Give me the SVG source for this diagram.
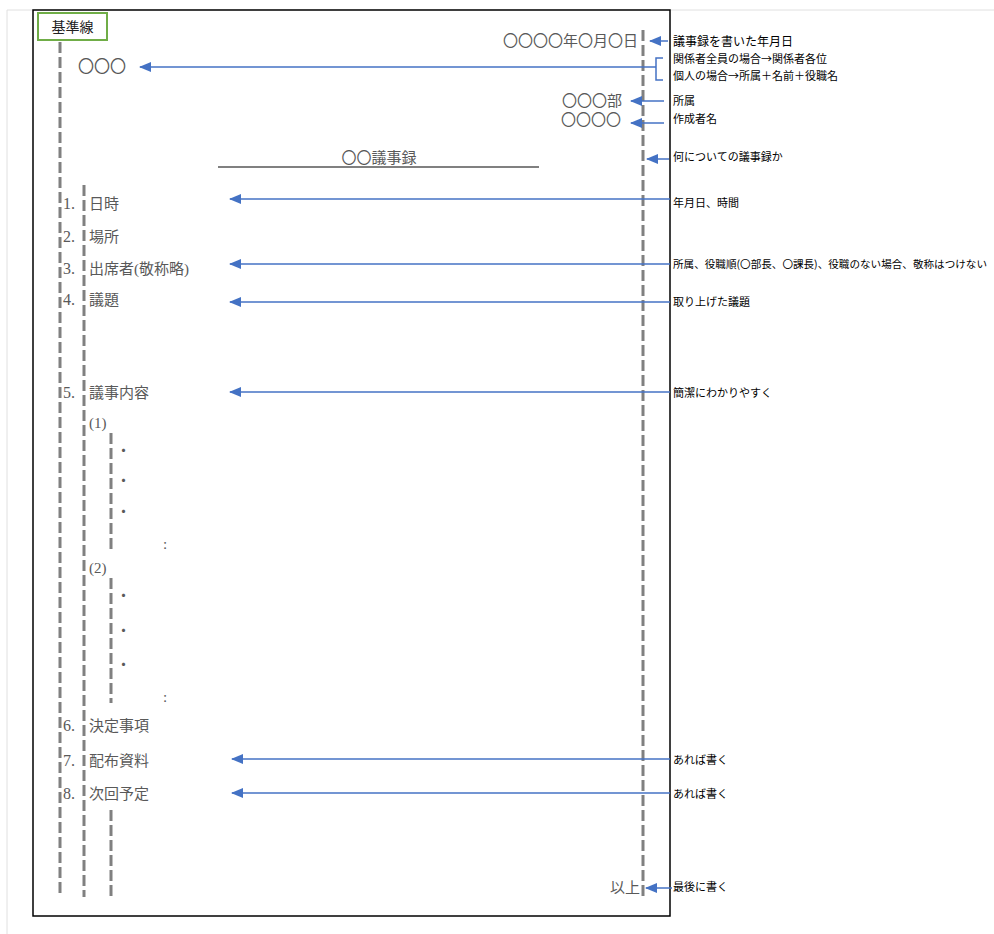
<svg xmlns="http://www.w3.org/2000/svg" width="994" height="934" viewBox="0 0 994 934">
<defs>
<style>
.doc{font-family:"Liberation Serif","Noto Sans CJK JP",serif;fill:#595959;font-size:15px}
.num{font-family:"Liberation Serif","Noto Sans CJK JP",serif;fill:#595959;font-size:16px}
.circ{font-family:"Noto Sans CJK JP",sans-serif;fill:#595959;font-size:15px}
.note{font-family:"Noto Sans CJK JP",sans-serif;fill:#000;font-size:11px}
.dash{stroke:#808080;stroke-width:3;stroke-dasharray:11 4;fill:none}
.arr{stroke:#4472C4;stroke-width:1.5;fill:none}
</style>
<marker id="ah" viewBox="0 0 12 10" refX="11" refY="5" markerWidth="12" markerHeight="10" markerUnits="userSpaceOnUse" orient="auto">
<path d="M12,5 L0,0 L0,10 Z" fill="#4472C4"/>
</marker>
</defs>
<rect width="994" height="934" fill="#fff"/>
<g id="frame">
<line x1="7" y1="10" x2="994" y2="10" stroke="#e0e0e0" stroke-width="1"/>
<line x1="7" y1="10" x2="7" y2="934" stroke="#e0e0e0" stroke-width="1"/>
<rect x="33" y="10" width="637" height="906" fill="#fff" stroke="#000" stroke-width="1.5"/>
</g>
<g id="baseline-label">
<rect x="38" y="13" width="69" height="27" fill="#fff" stroke="#70AD47" stroke-width="2"/>
<text x="72.5" y="32" text-anchor="middle" style="font-family:'Noto Sans CJK JP',sans-serif;font-size:14px;fill:#222">基準線</text>
</g>
<g id="guides">
<line class="dash" x1="60" y1="42" x2="60" y2="897"/>
<line class="dash" x1="84" y1="185" x2="84" y2="897"/>
<line class="dash" x1="111" y1="433" x2="111" y2="552"/>
<line class="dash" x1="111" y1="578" x2="111" y2="703"/>
<line class="dash" x1="111" y1="810" x2="111" y2="897"/>
<line class="dash" x1="643" y1="30" x2="643" y2="897"/>
</g>
<g id="header">
<text class="circ" x="638" y="46" text-anchor="end">〇〇〇〇年〇月〇日</text>
<text class="circ" x="78" y="72" style="font-size:16px">〇〇〇</text>
<text class="circ" x="622" y="106" text-anchor="end" style="font-size:15px">〇〇〇部</text>
<text class="circ" x="621" y="125" text-anchor="end" style="font-size:15px">〇〇〇〇</text>
<text class="doc" x="379" y="163" text-anchor="middle">〇〇議事録</text>
<line x1="218" y1="167" x2="539" y2="167" stroke="#808080" stroke-width="2"/>
</g>
<g id="items">
<text class="num" x="63" y="209">1.</text><text class="doc" x="89" y="209">日時</text>
<text class="num" x="63" y="242">2.</text><text class="doc" x="89" y="242">場所</text>
<text class="num" x="63" y="274">3.</text><text class="doc" x="89" y="274">出席者(敬称略)</text>
<text class="num" x="63" y="305">4.</text><text class="doc" x="89" y="305">議題</text>
<text class="num" x="63" y="398">5.</text><text class="doc" x="89" y="398">議事内容</text>
<text class="doc" x="89" y="428">(1)</text>
<text class="doc" x="116" y="456">・</text>
<text class="doc" x="116" y="486">・</text>
<text class="doc" x="116" y="517">・</text>
<text class="doc" x="163" y="549">:</text>
<text class="doc" x="89" y="573">(2)</text>
<text class="doc" x="116" y="601">・</text>
<text class="doc" x="116" y="636">・</text>
<text class="doc" x="116" y="670">・</text>
<text class="doc" x="163" y="702">:</text>
<text class="num" x="63" y="731">6.</text><text class="doc" x="89" y="731">決定事項</text>
<text class="num" x="63" y="766">7.</text><text class="doc" x="89" y="766">配布資料</text>
<text class="num" x="63" y="799">8.</text><text class="doc" x="89" y="799">次回予定</text>
<text class="doc" x="640" y="893" text-anchor="end">以上</text>
</g>
<g id="notes">
<text class="note" x="673" y="46" style="font-size:12px">議事録を書いた年月日</text>
<text class="note" x="673" y="63">関係者全員の場合→関係者各位</text>
<text class="note" x="673" y="80">個人の場合→所属＋名前＋役職名</text>
<text class="note" x="673" y="105">所属</text>
<text class="note" x="673" y="123">作成者名</text>
<text class="note" x="673" y="161">何についての議事録か</text>
<text class="note" x="673" y="207">年月日、時間</text>
<text class="note" x="673" y="268" style="font-size:10.5px" textLength="314" lengthAdjust="spacingAndGlyphs">所属、役職順(〇部長、〇課長)、役職のない場合、敬称はつけない</text>
<text class="note" x="673" y="306">取り上げた議題</text>
<text class="note" x="673" y="397">簡潔にわかりやすく</text>
<text class="note" x="673" y="764">あれば書く</text>
<text class="note" x="673" y="798">あれば書く</text>
<text class="note" x="673" y="891">最後に書く</text>
</g>
<g id="connectors">
<line class="arr" x1="668" y1="41" x2="650" y2="41" marker-end="url(#ah)"/>
<path class="arr" d="M663,58 H656 V80 H663"/>
<line class="arr" x1="656" y1="67" x2="140" y2="67" marker-end="url(#ah)"/>
<line class="arr" x1="664" y1="101" x2="631" y2="101" marker-end="url(#ah)"/>
<line class="arr" x1="664" y1="123" x2="631" y2="123" marker-end="url(#ah)"/>
<line class="arr" x1="669" y1="159" x2="647" y2="159" marker-end="url(#ah)"/>
<line class="arr" x1="670" y1="199" x2="230" y2="199" marker-end="url(#ah)"/>
<line class="arr" x1="670" y1="264" x2="230" y2="264" marker-end="url(#ah)"/>
<line class="arr" x1="670" y1="302" x2="230" y2="302" marker-end="url(#ah)"/>
<line class="arr" x1="670" y1="392" x2="230" y2="392" marker-end="url(#ah)"/>
<line class="arr" x1="670" y1="759" x2="232" y2="759" marker-end="url(#ah)"/>
<line class="arr" x1="670" y1="793" x2="232" y2="793" marker-end="url(#ah)"/>
<line class="arr" x1="672" y1="888" x2="646" y2="888" marker-end="url(#ah)"/>
</g>
</svg>
